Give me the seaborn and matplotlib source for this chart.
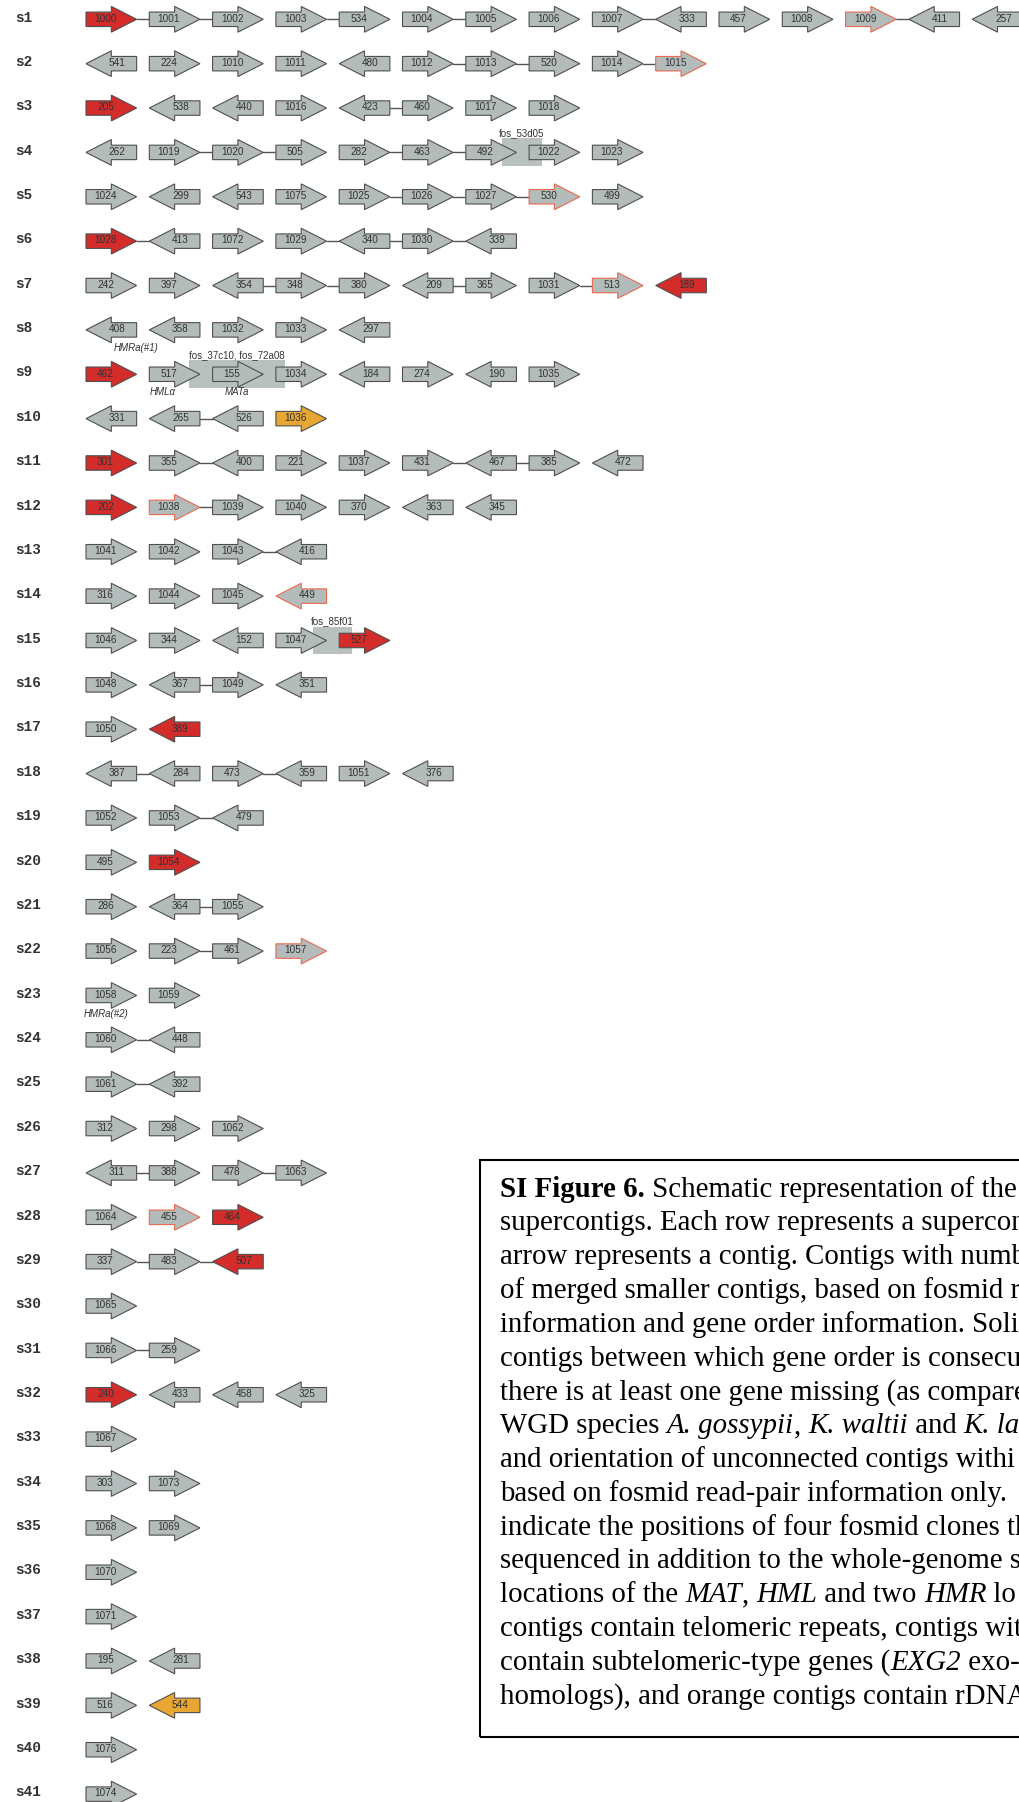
import numpy as np
import pandas as pd
import matplotlib
matplotlib.use("Agg")
import matplotlib.pyplot as plt
from matplotlib.patches import Polygon, Rectangle
from matplotlib.font_manager import FontProperties
import seaborn as sns

# ---------------------------------------------------------------------------
# Supercontig layout: contig ids in order, strand (R forward / L reverse),
# joins between neighbours ('-' solid link, '.' unlinked) and contig class
# (n plain, t telomeric repeats, s subtelomeric genes, o rDNA)
# ---------------------------------------------------------------------------
contig_ids = [
    [1000, 1001, 1002, 1003, 534, 1004, 1005, 1006, 1007, 333, 457, 1008, 1009, 411, 257],
    [541, 224, 1010, 1011, 480, 1012, 1013, 520, 1014, 1015],
    [205, 538, 440, 1016, 423, 460, 1017, 1018],
    [262, 1019, 1020, 505, 282, 463, 492, 1022, 1023],
    [1024, 299, 543, 1075, 1025, 1026, 1027, 530, 499],
    [1028, 413, 1072, 1029, 340, 1030, 339],
    [242, 397, 354, 348, 380, 209, 365, 1031, 513, 189],
    [408, 358, 1032, 1033, 297],
    [462, 517, 155, 1034, 184, 274, 190, 1035],
    [331, 265, 526, 1036],
    [301, 355, 400, 221, 1037, 431, 467, 385, 472],
    [202, 1038, 1039, 1040, 370, 363, 345],
    [1041, 1042, 1043, 416],
    [316, 1044, 1045, 449],
    [1046, 344, 152, 1047, 527],
    [1048, 367, 1049, 351],
    [1050, 389],
    [387, 284, 473, 359, 1051, 376],
    [1052, 1053, 479],
    [495, 1054],
    [286, 364, 1055],
    [1056, 223, 461, 1057],
    [1058, 1059],
    [1060, 448],
    [1061, 392],
    [312, 298, 1062],
    [311, 388, 478, 1063],
    [1064, 455, 464],
    [337, 483, 507],
    [1065],
    [1066, 259],
    [240, 433, 458, 325],
    [1067],
    [303, 1073],
    [1068, 1069],
    [1070],
    [1071],
    [195, 281],
    [516, 544],
    [1076],
    [1074],
]

strands = [
    "RRRRRRRRRLRRRLL", "LRRRLRRRRR", "RLLRLRRR", "LRRRRRRRR", "RLLRRRRRR",
    "RLRRLRL", "RRLRRLRRRL", "LLRRL", "RRRRLRLR", "LLLR",
    "RRLRRRLRL", "RRRRRLL", "RRRL", "RRRL", "RRLRR",
    "RLRL", "RL", "LLRLRL", "RRL", "RR",
    "RLR", "RRRR", "RR", "RL", "RL",
    "RRR", "LRRR", "RRR", "RRL", "R",
    "RR", "RLLL", "R", "RR", "RR",
    "R", "R", "RL", "RL", "R", "R",
]

joins = [
    "--.-.-..-...-.", ".....--.-", "....-..", ".--.--..", "....---.",
    "-..---", "..--.-.-.", "....", ".......", ".-.",
    ".-...--.", ".-....", "..-", "...", "....",
    ".-.", ".", "-.-..", ".-", ".",
    ".-", ".-.", ".", "-", "-",
    "..", "-.-", "..", "--", "",
    "-", "...", "", ".", ".",
    "", "", ".", ".", "", "",
]

classes = [
    "tnnnnnnnnnnnsnn", "nnnnnnnnns", "tnnnnnnn", "nnnnnnnnn", "nnnnnnnsn",
    "tnnnnnn", "nnnnnnnnst", "nnnnn", "tnnnnnnn", "nnno",
    "tnnnnnnnn", "tsnnnnn", "nnnn", "nnns", "nnnnt",
    "nnnn", "nt", "nnnnnn", "nnn", "nt",
    "nnn", "nnns", "nn", "nn", "nn",
    "nnn", "nnnn", "nst", "nnt", "n",
    "nn", "tnnn", "n", "nn", "nn",
    "n", "n", "nn", "no", "n", "n",
]

# Sequenced fosmid clones: supercontig and extent in contig-slot units
fosmid_names = ["fos_53d05", "fos_37c10, fos_72a08", "fos_85f01"]
fosmid_rows = [4, 9, 15]
fosmid_start = [6.57, 1.62, 3.58]
fosmid_end = [7.20, 3.15, 4.21]

# Mating-type loci annotations: supercontig and slot position
locus_names = ["HMRa(#1)", "HML\u03b1", "MATa", "HMRa(#2)"]
locus_rows = [8, 9, 9, 23]
locus_slot = [0.79, 1.21, 2.39, 0.32]

# Caption, one list of (text, style) runs per line: r roman, b bold, i italic
caption_runs = [
    [("SI Figure 6.", "b"), (" Schematic representation of the", "r")],
    [("supercontigs. Each row represents a supercon", "r")],
    [("arrow represents a contig. Contigs with numb", "r")],
    [("of merged smaller contigs, based on fosmid r", "r")],
    [("information and gene order information. Soli", "r")],
    [("contigs between which gene order is consecu", "r")],
    [("there is at least one gene missing (as compare", "r")],
    [("WGD species ", "r"), ("A. gossypii", "i"), (", ", "r"),
     ("K. waltii", "i"), (" and ", "r"), ("K. la", "i")],
    [("and orientation of unconnected contigs withi", "r")],
    [("based on fosmid read-pair information only. ", "r")],
    [("indicate the positions of four fosmid clones th", "r")],
    [("sequenced in addition to the whole-genome s", "r")],
    [("locations of the ", "r"), ("MAT", "i"), (", ", "r"), ("HML", "i"),
     (" and two ", "r"), ("HMR", "i"), (" lo", "r")],
    [("contigs contain telomeric repeats, contigs wit", "r")],
    [("contain subtelomeric-type genes (", "r"), ("EXG2", "i"), (" exo-", "r")],
    [("homologs), and orange contigs contain rDNA", "r")],
]

# ---------------------------------------------------------------------------
# Styling
# ---------------------------------------------------------------------------
sns.set_theme(style="white")
plt.rcParams["font.family"] = ["Liberation Sans", "DejaVu Sans"]

GRAY = "#b4bcbb"
EDGE = "#4f4f4f"
FILL = {"n": GRAY, "t": "#d42b2b", "s": GRAY, "o": "#e8a632"}
LINE = {"n": EDGE, "t": EDGE, "s": "#e8694f", "o": EDGE}

W, BODY, HEAD = 0.80, 0.163, 0.29   # arrow length, body / head half-heights

FIG_W, FIG_H = 1020, 1802
SLOT_PX, ROW_PX = 63.3, 44.37       # spacing of contig slots and rows
X0_PX, Y0_PX = 86.0, 19.3           # first slot / first row centre

fig = plt.figure(figsize=(FIG_W / 100, FIG_H / 100), dpi=100)
ax = fig.add_axes([0, 0, 1, 1])


def arrow_points(x0, y, strand):
    h = W / 2
    if strand == "R":
        return [(x0, y - BODY), (x0 + h, y - BODY), (x0 + h, y - HEAD), (x0 + W, y),
                (x0 + h, y + HEAD), (x0 + h, y + BODY), (x0, y + BODY)]
    return [(x0, y), (x0 + h, y - HEAD), (x0 + h, y - BODY), (x0 + W, y - BODY),
            (x0 + W, y + BODY), (x0 + h, y + BODY), (x0 + h, y + HEAD)]


# fosmid clone boxes (behind contigs)
for name, r, a, b in zip(fosmid_names, fosmid_rows, fosmid_start, fosmid_end):
    ax.add_patch(Rectangle((a, r - 0.315), b - a, 0.63, facecolor="#b9c1c0",
                           edgecolor="none", zorder=1))
    ax.text((a + b) / 2, r - 0.43, name, ha="center", va="center",
            fontsize=7, color="#333333", zorder=5)

# solid links between consecutive contigs
segments = []
seg_id = 0
for r, jn in enumerate(joins, start=1):
    for j, c in enumerate(jn):
        if c == "-":
            segments.append((j + W, r, seg_id))
            segments.append((j + 1, r, seg_id))
            seg_id += 1
seg_df = pd.DataFrame(segments, columns=["slot", "row", "seg"])
sns.lineplot(data=seg_df, x="slot", y="row", units="seg", estimator=None,
             sort=False, color="#555555", linewidth=1.0, legend=False, ax=ax,
             zorder=2)

# contig arrows with their numbers
for r, (ids, st, cl) in enumerate(zip(contig_ids, strands, classes), start=1):
    ax.text(-1.122, r + 0.05, f"s{r}", ha="left", va="baseline",
            fontsize=10.4, fontweight="bold", family="Liberation Mono",
            color="#333333")
    for j, (cid, s, k) in enumerate(zip(ids, st, cl)):
        ax.add_patch(Polygon(arrow_points(j, r, s), closed=True,
                             facecolor=FILL[k], edgecolor=LINE[k],
                             linewidth=0.8, zorder=3, joinstyle="miter"))
        tx = j + 0.385 * W if s == "R" else j + W - 0.385 * W
        ax.text(tx, r - 0.015, str(cid), ha="center", va="center",
                fontsize=7.2, color="#333333", zorder=4)

# mating-type loci
for name, r, x in zip(locus_names, locus_rows, locus_slot):
    ax.text(x, r + 0.41, name, ha="center", va="center", fontsize=7,
            fontstyle="italic", color="#333333", zorder=5)

ax.set_xlim(-X0_PX / SLOT_PX, (FIG_W - X0_PX) / SLOT_PX)
ax.set_ylim(1 + (FIG_H - Y0_PX) / ROW_PX, 1 - Y0_PX / ROW_PX)
ax.axis("off")

# caption box
box_top, box_bottom, box_left = 1160, 1736.7, 480
fig.add_artist(Rectangle((box_left / FIG_W, 1 - box_bottom / FIG_H), 0.8,
                         (box_bottom - box_top) / FIG_H, transform=fig.transFigure,
                         fill=False, edgecolor="black", linewidth=1.5))

CAP_SIZE = 20.8
cap_props = {
    "r": FontProperties(family="Liberation Serif", size=CAP_SIZE),
    "b": FontProperties(family="Liberation Serif", size=CAP_SIZE, weight="bold"),
    "i": FontProperties(family="Liberation Serif", size=CAP_SIZE, style="italic"),
}
renderer = fig.canvas.get_renderer()


def run_width(text, prop):
    # advance width of a run, trailing blanks included
    w_full = renderer.get_text_width_height_descent(text + "|", prop, ismath=False)[0]
    w_bar = renderer.get_text_width_height_descent("|", prop, ismath=False)[0]
    return w_full - w_bar


for i, runs in enumerate(caption_runs):
    y = 1196.7 + i * 33.8
    x = 500.0
    for text, style in runs:
        fig.text(x / FIG_W, 1 - y / FIG_H, text, ha="left", va="baseline",
                 fontproperties=cap_props[style], color="black")
        x += run_width(text, cap_props[style])

fig.savefig("out.png", dpi=100, facecolor="white")
